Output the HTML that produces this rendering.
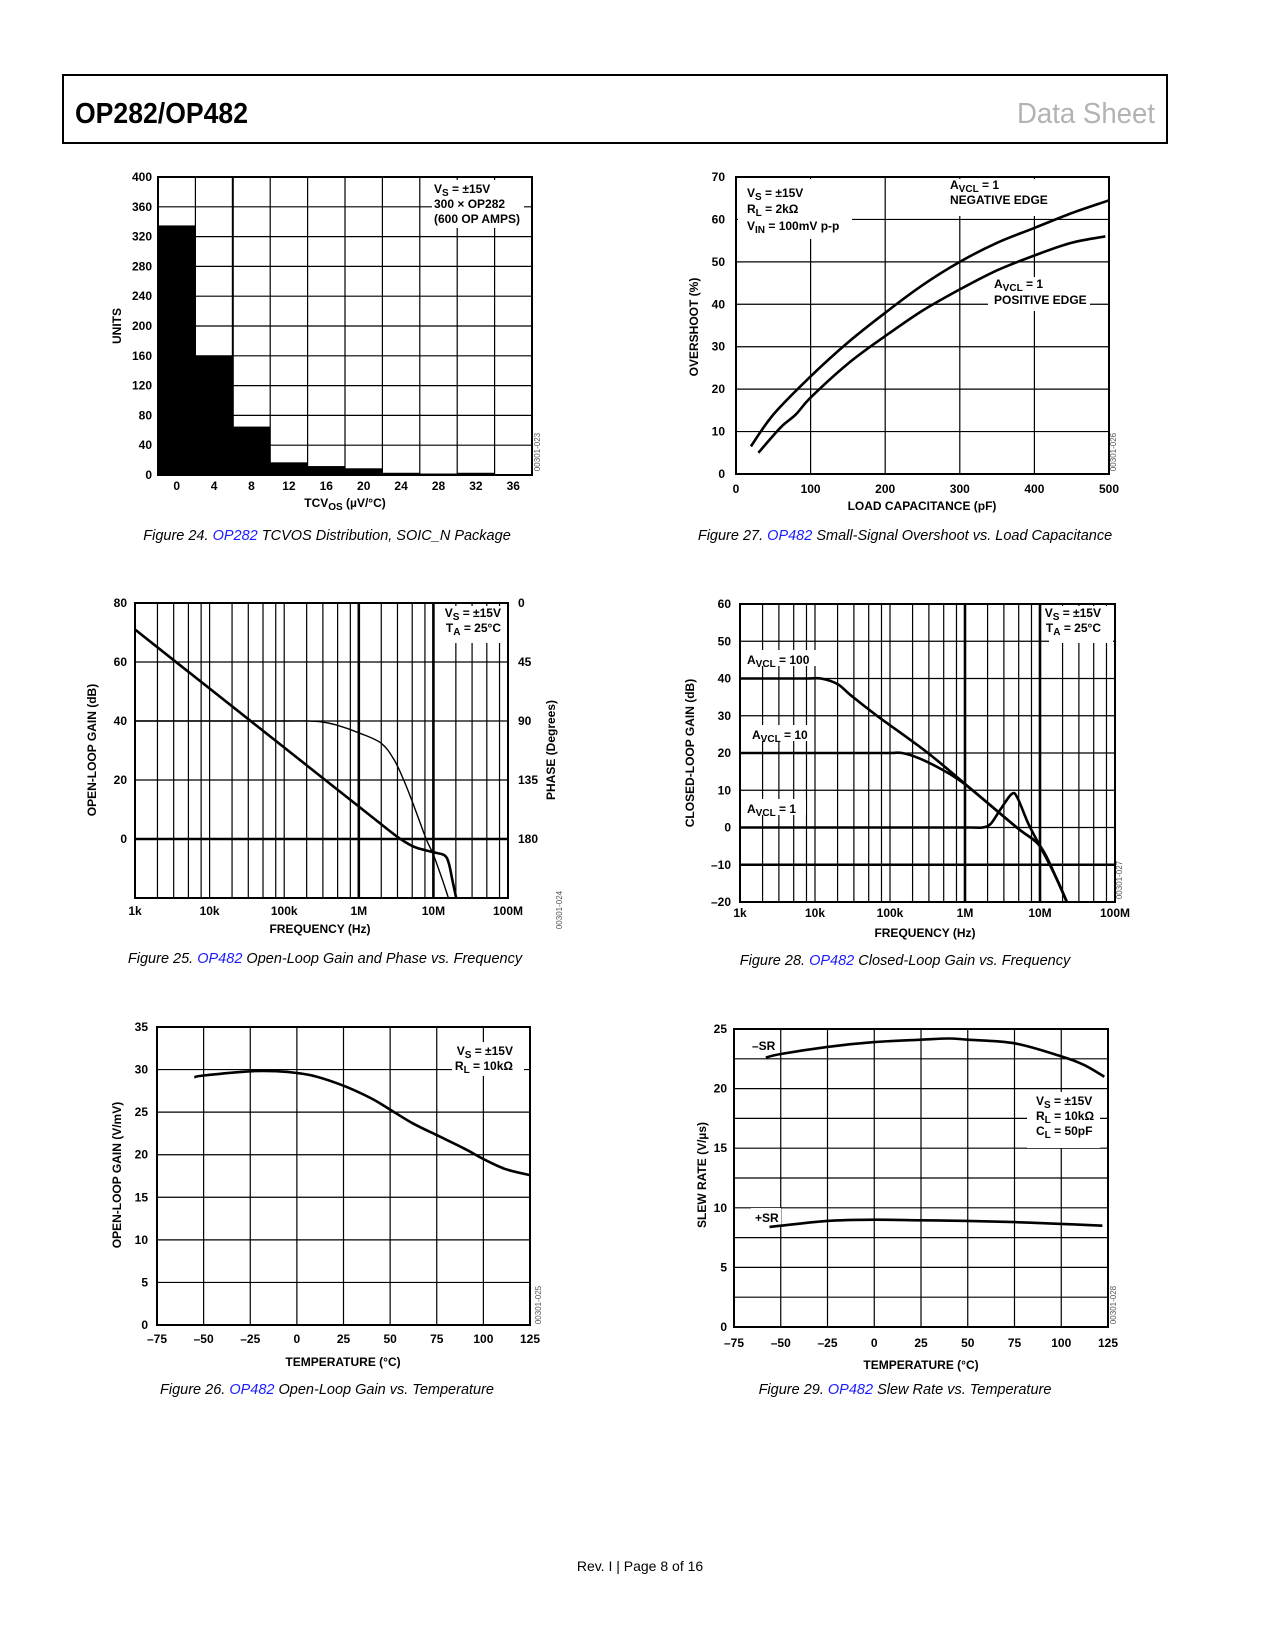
<!DOCTYPE html>
<html><head><meta charset="utf-8"><title>OP282/OP482 Data Sheet page 8</title>
<style>html,body{margin:0;padding:0;background:#fff}svg{display:block}
text{font-family:"Liberation Sans",sans-serif;fill:#000}</style></head>
<body>
<svg id="page" xmlns="http://www.w3.org/2000/svg" width="1275" height="1650" viewBox="0 0 1275 1650">
<rect x="63" y="75" width="1104" height="68" fill="none" stroke="#000" stroke-width="2"/>
<text x="75" y="123" font-size="29" font-weight="bold" textLength="173" lengthAdjust="spacingAndGlyphs">OP282/OP482</text>
<text x="1155" y="123" font-size="29" text-anchor="end" style="fill:#b3b3b3" textLength="138" lengthAdjust="spacingAndGlyphs">Data Sheet</text>
<text x="640" y="1571" font-size="14" text-anchor="middle">Rev. I | Page 8 of 16</text>
</svg>
<script>
// Fig 24 data
const f24Bins=["0","4","8","12","16","20","24","28","32","36"];
const f24Units=[335,160,65,17,12,9,3,2,3,0];
const f24YTicks=[0,40,80,120,160,200,240,280,320,360,400];
// Fig 27 data
const f27Cap=[20,50,100,150,200,250,300,350,400,450,500];
const f27Neg=[6.5,14,23,31,38,44.5,50,54.5,58,61.5,64.5];
const f27CapPos=[30,60,80,100,150,200,250,300,350,400,450,495];
const f27Pos=[5,11,14,18,26,32.5,38.5,43.5,48,51.5,54.5,56];
const f27XTicks=[0,100,200,300,400,500];
const f27YTicks=[0,10,20,30,40,50,60,70];
// Fig 25 data
const f25GainF=[1e3,1e4,1e5,1e6,3e6,4.5e6,6e6,1e7,1.4e7,1.6e7,1.8e7,2.1e7];
const f25Gain=[71,51,31,11,1.5,-1.5,-3,-4.5,-5.5,-8,-14,-22];
const f25PhaseF=[1e3,1e4,1e5,2e5,3e5,5e5,1e6,2e6,3e6,4e6,5.5e6,8e6,1e7,1.3e7,1.7e7];
const f25Phase=[90,90,90,90,90.5,93,99,107,120,135,155,180,192,210,230];
const f25YTicks=[0,20,40,60,80];
const f25PTicks=["0","45","90","135","180"];
const decLabels=["1k","10k","100k","1M","10M","100M"];
const minorMult=[2,3.3,5.2,7.7];
// Fig 28 data
const f28F100=[1e3,4e3,8e3,1.2e4,2e4,3e4,6.7e4,3.2e5,1.26e6,4.9e6,1e7,1.6e7,2.4e7];
const f28G100=[40,40,40,40,38.5,35.5,30,20,10,0,-5,-13,-21];
const f28F10=[1e3,3e4,1e5,1.45e5,2.5e5,5e5,8e5,1.26e6,4.9e6,1e7,1.6e7,2.4e7];
const f28G10=[20,20,20,20,18.5,15.5,13,10,0,-5,-13,-21];
const f28F1=[1e3,3e5,1.2e6,1.7e6,2.2e6,3e6,4.2e6,5e6,7e6,1e7,1.6e7,2.4e7];
const f28G1=[0,0,0,0,1,5,9,8,1,-5,-13,-21];
const f28YTicks=[-20,-10,0,10,20,30,40,50,60];
// Fig 26 data
const f26T=[-55,-50,-25,-10,0,10,25,40,50,62,75,90,100,112,125];
const f26G=[29.1,29.3,29.8,29.8,29.6,29.2,28.1,26.6,25.3,23.7,22.3,20.7,19.5,18.3,17.6];
const tempTicks=[-75,-50,-25,0,25,50,75,100,125];
const f26YTicks=[0,5,10,15,20,25,30,35];
// Fig 29 data
const f29Tn=[-58,-50,-25,0,25,40,50,75,100,112,123];
const f29Neg=[22.6,22.9,23.5,23.9,24.1,24.2,24.1,23.8,22.7,22,21];
const f29Tp=[-56,-50,-25,0,25,50,75,100,122];
const f29Pos=[8.4,8.5,8.9,9.0,8.95,8.9,8.8,8.65,8.5];
const f29YTicks=[0,5,10,15,20,25];

const NS="http://www.w3.org/2000/svg";
const svg=document.getElementById('page');
function mk(tag,parent,attrs){const e=document.createElementNS(NS,tag);for(const k in attrs)e.setAttribute(k,attrs[k]);parent.appendChild(e);return e;}
function lin(d0,d1,r0,r1){return v=>r0+(v-d0)*(r1-r0)/(d1-d0);}
function logs(d0,d1,r0,r1){return v=>r0+(Math.log10(v)-Math.log10(d0))*(r1-r0)/(Math.log10(d1)-Math.log10(d0));}
function smooth(pts){let d="M"+pts[0][0].toFixed(1)+","+pts[0][1].toFixed(1);
 for(let i=0;i<pts.length-1;i++){const p0=pts[i-1]||pts[i],p1=pts[i],p2=pts[i+1],p3=pts[i+2]||p2;
  const c1=[p1[0]+(p2[0]-p0[0])/6,p1[1]+(p2[1]-p0[1])/6],c2=[p2[0]-(p3[0]-p1[0])/6,p2[1]-(p3[1]-p1[1])/6];
  d+=" C"+c1[0].toFixed(1)+","+c1[1].toFixed(1)+" "+c2[0].toFixed(1)+","+c2[1].toFixed(1)+" "+p2[0].toFixed(1)+","+p2[1].toFixed(1);}
 return d;}
function line(g,x1,y1,x2,y2,w){return mk('line',g,{x1:x1,y1:y1,x2:x2,y2:y2,stroke:'#000','stroke-width':w||1.2});}
function txt(g,x,y,s,size,anchor,weight){const t=mk('text',g,{x:x,y:y,'font-size':size||12,'text-anchor':anchor||'start','font-weight':weight||'bold'});t.textContent=s;return t;}
function subTxt(g,x,y,main,sub,rest,anchor){const t=mk('text',g,{x:x,y:y,'font-size':12,'font-weight':'bold','text-anchor':anchor||'start'});
 const a=mk('tspan',t,{});a.textContent=main;const b=mk('tspan',t,{dy:3,'font-size':10});b.textContent=sub;const c=mk('tspan',t,{dy:-3});c.textContent=rest;return t;}
function whiteBox(g,x,y,w,h){return mk('rect',g,{x:x,y:y,width:w,height:h,fill:'#fff'});}
function ytitle(g,x,y,s){const t=mk('text',g,{x:x,y:y,'font-size':12,'font-weight':'bold','text-anchor':'middle',transform:'rotate(-90 '+x+' '+y+')'});t.textContent=s;return t;}
function code(g,x,y,s){const t=mk('text',g,{x:x,y:y,'font-size':8,'font-weight':'normal','text-anchor':'middle',transform:'rotate(-90 '+x+' '+y+')',style:'fill:#555'});t.textContent=s;return t;}
function caption(x,y,num,part,rest){const t=mk('text',svg,{x:x,y:y,'font-size':14.5,'font-style':'italic','text-anchor':'middle','font-weight':'normal'});
 const a=mk('tspan',t,{});a.textContent="Figure "+num+". ";const b=mk('tspan',t,{style:'fill:#1a1aff'});b.textContent=part;const c=mk('tspan',t,{});c.textContent=" "+rest;
 
 
 
 }
function clip(id,x,y,w,h){const d=mk('defs',svg,{});const c=mk('clipPath',d,{id:id});mk('rect',c,{x:x,y:y,width:w,height:h});}
function logGrid(g,x,T,B){for(let d=3;d<8;d++){if(d>3)line(g,x(Math.pow(10,d)),T,x(Math.pow(10,d)),B,(d==6||d==7)?2.6:1.2);
 minorMult.forEach(m=>line(g,x(m*Math.pow(10,d)),T,x(m*Math.pow(10,d)),B,1.2));}}

// ===== Fig 24 =====
(function(){
 const L=158,R=532,T=177,B=475;
 const g=mk('g',svg,{});
 
 
 const bw=(R-L)/f24Bins.length;const y=lin(0,400,B,T);
 f24Units.forEach((v,i)=>{const r=mk('rect',g,{x:L+i*bw,y:y(v),width:bw,height:B-y(v),fill:'#000'});
  
  });
 f24YTicks.forEach(v=>{line(g,L,y(v),R,y(v));const t=txt(g,L-6,y(v)+4,String(v),12,'end');
  
  });
 for(let i=0;i<=f24Bins.length;i++){line(g,L+i*bw,T,L+i*bw,B,i==2?2:1.2);}
 f24Bins.forEach((s,i)=>{const t=txt(g,L+(i+0.5)*bw,490,s,12,'middle');
  
  });
 mk('rect',g,{x:L,y:T,width:R-L,height:B-T,fill:'none',stroke:'#000','stroke-width':2});
 whiteBox(g,432,180,92,48);
 const l=mk('g',g,{});
 
 
 subTxt(l,434,193,"V","S"," = ±15V");txt(l,434,208,"300 × OP282");txt(l,434,223,"(600 OP AMPS)");
 const t1=mk('text',g,{x:345,y:507,'font-size':12,'font-weight':'bold','text-anchor':'middle'});
 const a=mk('tspan',t1,{});a.textContent="TCV";const b=mk('tspan',t1,{dy:3,'font-size':10});b.textContent="OS";const c=mk('tspan',t1,{dy:-3});c.textContent=" (µV/°C)";
 
 
 const yt=ytitle(g,121,326,"UNITS");
 
 
 code(g,540,452,"00301-023");
 caption(327,540,24,"OP282","TCVOS Distribution, SOIC_N Package");
})();

// ===== Fig 27 =====
(function(){
 const L=736,R=1109,T=177,B=474;
 const g=mk('g',svg,{});
 
 
 const x=lin(0,500,L,R),y=lin(0,70,B,T);
 f27YTicks.forEach(v=>{line(g,L,y(v),R,y(v));const t=txt(g,L-11,y(v)+4,String(v),12,'end');
  
  });
 f27XTicks.forEach(v=>{line(g,x(v),T,x(v),B);const t=txt(g,x(v),493,String(v),12,'middle');
  
  });
 whiteBox(g,738,179,114,60);whiteBox(g,945,179,120,37);whiteBox(g,988,277,102,34);
 const p1=mk('path',g,{d:smooth(f27Cap.map((c,i)=>[x(c),y(f27Neg[i])])),fill:'none',stroke:'#000','stroke-width':2.6});
 
 
 const p2=mk('path',g,{d:smooth(f27CapPos.map((c,i)=>[x(c),y(f27Pos[i])])),fill:'none',stroke:'#000','stroke-width':2.6});
 
 
 mk('rect',g,{x:L,y:T,width:R-L,height:B-T,fill:'none',stroke:'#000','stroke-width':2});
 const l=mk('g',g,{});
 
 
 subTxt(l,747,197,"V","S"," = ±15V");subTxt(l,747,213,"R","L"," = 2kΩ");subTxt(l,747,230,"V","IN"," = 100mV p-p");
 const n=mk('g',g,{});
 
 
 subTxt(n,950,189,"A","VCL"," = 1");txt(n,950,204,"NEGATIVE  EDGE");
 const p=mk('g',g,{});
 
 
 subTxt(p,994,288,"A","VCL"," = 1");txt(p,994,304,"POSITIVE EDGE");
 const xt=txt(g,922,510,"LOAD CAPACITANCE (pF)",12,'middle');
 
 
 const yt=ytitle(g,698,327,"OVERSHOOT (%)");
 
 
 code(g,1116,452,"00301-026");
 caption(905,540,27,"OP482","Small-Signal Overshoot vs. Load Capacitance");
})();

// ===== Fig 25 =====
(function(){
 const L=135,R=508,T=603,B=898;
 const g=mk('g',svg,{});
 
 
 const x=logs(1e3,1e8,L,R),y=lin(-20,80,B,T),yp=lin(0,225,T,B);
 logGrid(g,x,T,B);
 f25YTicks.forEach((v,i)=>{line(g,L,y(v),R,y(v),v==0?2.4:1.2);const t=txt(g,L-8,y(v)+4,String(v),12,'end');
  
  
  const t2=txt(g,R+10,y(v)+4,f25PTicks[4-i],12,'start');
  
  });
 decLabels.forEach((s,i)=>{const t=txt(g,x(Math.pow(10,3+i)),915,s,12,'middle');
  
  });
 whiteBox(g,438,606,68,37);
 clip('c25',L,T,R-L,B-T);
 const p1=mk('path',g,{d:smooth(f25GainF.map((f,i)=>[x(f),y(f25Gain[i])])),fill:'none',stroke:'#000','stroke-width':2.6,'clip-path':'url(#c25)'});
 
 
 const p2=mk('path',g,{d:smooth(f25PhaseF.map((f,i)=>[x(f),yp(f25Phase[i])])),fill:'none',stroke:'#000','stroke-width':1.4,'clip-path':'url(#c25)'});
 
 
 mk('rect',g,{x:L,y:T,width:R-L,height:B-T,fill:'none',stroke:'#000','stroke-width':2});
 const l=mk('g',g,{});
 
 
 subTxt(l,501,617,"V","S"," = ±15V",'end');subTxt(l,501,632,"T","A"," = 25°C",'end');
 const xt=txt(g,320,933,"FREQUENCY (Hz)",12,'middle');
 
 
 const yt=ytitle(g,96,750,"OPEN-LOOP GAIN (dB)");
 
 
 const yt2=ytitle(g,555,750,"PHASE (Degrees)");
 
 
 code(g,562,910,"00301-024");
 caption(325,963,25,"OP482","Open-Loop Gain and Phase vs. Frequency");
})();

// ===== Fig 28 =====
(function(){
 const L=740,R=1115,T=604,B=902;
 const g=mk('g',svg,{});
 
 
 const x=logs(1e3,1e8,L,R),y=lin(-20,60,B,T);
 logGrid(g,x,T,B);
 f28YTicks.forEach(v=>{line(g,L,y(v),R,y(v),v==-10?2.4:1.2);const t=txt(g,L-9,y(v)+4,String(v).replace('-','–'),12,'end');
  
  });
 decLabels.forEach((s,i)=>{const t=txt(g,x(Math.pow(10,3+i)),917,s,12,'middle');
  
  });
 whiteBox(g,1049,606,64,37);whiteBox(g,744,650,72,16);whiteBox(g,748,725,66,16);whiteBox(g,744,799,62,16);
 clip('c28',L,T,R-L,B-T);
 [[f28F100,f28G100,'gain-100-curve'],[f28F10,f28G10,'gain-10-curve'],[f28F1,f28G1,'gain-1-curve']].forEach(s=>{
  const p=mk('path',g,{d:smooth(s[0].map((f,i)=>[x(f),y(s[1][i])])),fill:'none',stroke:'#000','stroke-width':2.6,'clip-path':'url(#c28)'});
  
  });
 mk('rect',g,{x:L,y:T,width:R-L,height:B-T,fill:'none',stroke:'#000','stroke-width':2});
 const l=mk('g',g,{});
 
 
 subTxt(l,1101,617,"V","S"," = ±15V",'end');subTxt(l,1101,632,"T","A"," = 25°C",'end');
 [[747,664,"100"],[752,739,"10"],[747,813,"1"]].forEach(a=>{const t=subTxt(g,a[0],a[1],"A","VCL"," = "+a[2]);
  
  });
 const xt=txt(g,925,937,"FREQUENCY (Hz)",12,'middle');
 
 
 const yt=ytitle(g,694,753,"CLOSED-LOOP GAIN (dB)");
 
 
 code(g,1122,880,"00301-027");
 caption(905,965,28,"OP482","Closed-Loop Gain vs. Frequency");
})();

// ===== Fig 26 =====
(function(){
 const L=157,R=530,T=1027,B=1325;
 const g=mk('g',svg,{});
 
 
 const x=lin(-75,125,L,R),y=lin(0,35,B,T);
 f26YTicks.forEach(v=>{line(g,L,y(v),R,y(v));const t=txt(g,L-9,y(v)+4,String(v),12,'end');
  
  });
 tempTicks.forEach(v=>{line(g,x(v),T,x(v),B);const t=txt(g,x(v),1343,String(v).replace('-','–'),12,'middle');
  
  });
 whiteBox(g,452,1042,72,34);
 const p=mk('path',g,{d:smooth(f26T.map((t,i)=>[x(t),y(f26G[i])])),fill:'none',stroke:'#000','stroke-width':2.6});
 
 
 mk('rect',g,{x:L,y:T,width:R-L,height:B-T,fill:'none',stroke:'#000','stroke-width':2});
 const l=mk('g',g,{});
 
 
 subTxt(l,513,1055,"V","S"," = ±15V",'end');subTxt(l,513,1070,"R","L"," = 10kΩ",'end');
 const xt=txt(g,343,1366,"TEMPERATURE (°C)",12,'middle');
 
 
 const yt=ytitle(g,121,1175,"OPEN-LOOP GAIN (V/mV)");
 
 
 code(g,541,1305,"00301-025");
 caption(327,1394,26,"OP482","Open-Loop Gain vs. Temperature");
})();

// ===== Fig 29 =====
(function(){
 const L=734,R=1108,T=1029,B=1327;
 const g=mk('g',svg,{});
 
 
 const x=lin(-75,125,L,R),y=lin(0,25,B,T);
 for(let v=0;v<=25;v+=2.5)line(g,L,y(v),R,y(v));
 f29YTicks.forEach(v=>{const t=txt(g,L-7,y(v)+4,String(v),12,'end');
  
  });
 tempTicks.forEach(v=>{line(g,x(v),T,x(v),B);const t=txt(g,x(v),1347,String(v).replace('-','–'),12,'middle');
  
  });
 whiteBox(g,1027,1092,73,56);whiteBox(g,748,1036,30,18);whiteBox(g,751,1208,30,18);
 const p1=mk('path',g,{d:smooth(f29Tn.map((t,i)=>[x(t),y(f29Neg[i])])),fill:'none',stroke:'#000','stroke-width':2.6});
 
 
 const p2=mk('path',g,{d:smooth(f29Tp.map((t,i)=>[x(t),y(f29Pos[i])])),fill:'none',stroke:'#000','stroke-width':2.6});
 
 
 mk('rect',g,{x:L,y:T,width:R-L,height:B-T,fill:'none',stroke:'#000','stroke-width':2});
 const l=mk('g',g,{});
 
 
 subTxt(l,1036,1105,"V","S"," = ±15V");subTxt(l,1036,1120,"R","L"," = 10kΩ");subTxt(l,1036,1135,"C","L"," = 50pF");
 const a=txt(g,752,1050,"–SR");
 
 
 const b=txt(g,755,1222,"+SR");
 
 
 const xt=txt(g,921,1369,"TEMPERATURE (°C)",12,'middle');
 
 
 const yt=ytitle(g,706,1175,"SLEW RATE (V/µs)");
 
 
 code(g,1116,1305,"00301-028");
 caption(905,1394,29,"OP482","Slew Rate vs. Temperature");
})();
</script>
</body></html>
